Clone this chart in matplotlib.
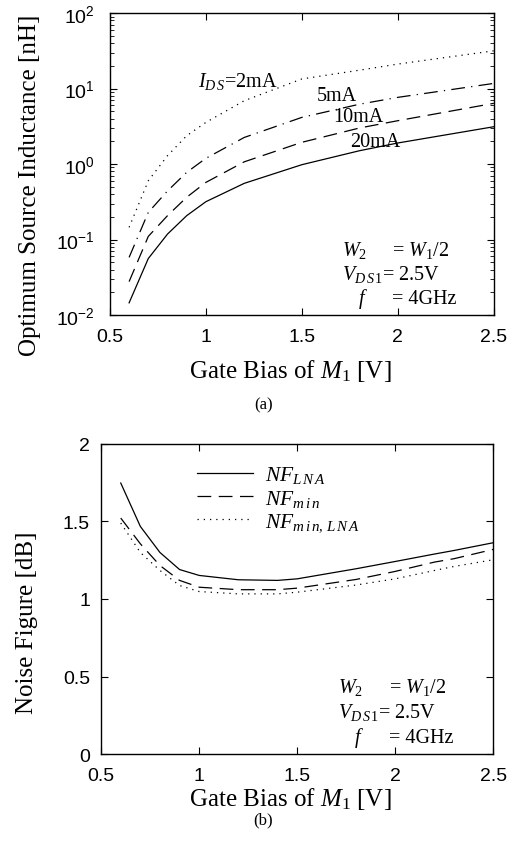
import numpy as np
import matplotlib
matplotlib.use("Agg")
import matplotlib.pyplot as plt
from matplotlib.ticker import FuncFormatter, NullFormatter, LogLocator

plt.rcParams['font.family'] = ['Liberation Serif', 'DejaVu Serif']
plt.rcParams['mathtext.fontset'] = 'custom'
plt.rcParams['mathtext.rm'] = 'Liberation Serif'
plt.rcParams['mathtext.it'] = 'Liberation Serif:italic'
plt.rcParams['mathtext.bf'] = 'Liberation Serif:bold'
plt.rcParams['mathtext.sf'] = 'Liberation Sans'

# (a) optimum source inductance vs gate bias, one curve per drain current
vgs_a = [0.6, 0.7, 0.8, 0.9, 1.0, 1.2, 1.5, 1.8, 2.0, 2.5]
ls_2ma = [0.145, 0.60, 1.29, 2.37, 3.56, 6.9, 13.4, 17.5, 21.1, 31.6]
ls_5ma = [0.058, 0.229, 0.44, 0.776, 1.19, 2.25, 4.15, 6.2, 7.64, 11.7]
ls_10ma = [0.0277, 0.11, 0.207, 0.363, 0.571, 1.07, 1.94, 3.0, 3.75, 6.37]
ls_20ma = [0.0145, 0.056, 0.118, 0.207, 0.317, 0.555, 0.98, 1.50, 1.9, 3.12]

# (b) noise figure vs gate bias
vgs_b = [0.6, 0.7, 0.8, 0.9, 1.0, 1.2, 1.4, 1.5, 1.8, 2.0, 2.2, 2.3, 2.5]
nf_lna = [1.748, 1.468, 1.30, 1.19, 1.152, 1.124, 1.12, 1.13, 1.195, 1.242, 1.29, 1.313, 1.363]
nf_min = [1.522, 1.356, 1.216, 1.12, 1.076, 1.06, 1.06, 1.07, 1.126, 1.178, 1.238, 1.26, 1.32]
nf_min_lna = [1.49, 1.30, 1.184, 1.087, 1.048, 1.033, 1.033, 1.044, 1.09, 1.13, 1.184, 1.21, 1.253]

xticks = [0.5, 1, 1.5, 2, 2.5]
yticks_b = [0, 0.5, 1, 1.5, 2]

SANS = 'Liberation Sans'
LW = 0.9
DASHED = (0, (11, 6))
DASHDOT = (0, (11, 5, 1, 5))
DOTTED = (0, (1, 4))


def style_axes(ax, ypad):
    ax.tick_params(which='both', direction='in', top=True, right=True)
    ax.tick_params(which='major', length=5, width=0.8)
    ax.tick_params(which='minor', length=3, width=0.6)
    ax.tick_params(axis='x', which='major', pad=9)
    ax.tick_params(axis='y', which='major', pad=ypad)
    for s in ax.spines.values():
        s.set_linewidth(1.0)
    for lab in ax.get_xticklabels() + ax.get_yticklabels():
        lab.set_family(SANS)
        lab.set_fontsize(14)


def param_text(ax):
    kw = dict(transform=ax.transAxes, fontsize=14.5, va='baseline', ha='left')
    ax.text(0.605, 0.200, r'$W_2$', **kw)
    ax.text(0.735, 0.200, r'= $W_1$/2', **kw)
    ax.text(0.605, 0.120, r'$V_{D\,S\,1}$= 2.5V', **kw)
    ax.text(0.645, 0.040, r'$f$', **kw)
    ax.text(0.735, 0.040, r'= 4GHz', **kw)


fig = plt.figure(figsize=(5.16, 8.62), dpi=100)

# ---- panel (a)
ax1 = fig.add_axes([0.213, 0.6334, 0.744, 0.3503])
ax1.semilogy(vgs_a, ls_2ma, color='k', lw=LW, linestyle=DOTTED)
ax1.semilogy(vgs_a, ls_5ma, color='k', lw=LW, linestyle=DASHDOT)
ax1.semilogy(vgs_a, ls_10ma, color='k', lw=LW, linestyle=DASHED)
ax1.semilogy(vgs_a, ls_20ma, color='k', lw=LW, linestyle='-')
ax1.set_xlim(0.5, 2.5)
ax1.set_ylim(1e-2, 1e2)
ax1.set_xticks(xticks)
ax1.xaxis.set_major_formatter(FuncFormatter(lambda v, p: '%g' % v))
ax1.yaxis.set_major_locator(LogLocator(base=10, numticks=10))
ax1.yaxis.set_minor_locator(LogLocator(base=10, subs=np.arange(2, 10), numticks=20))
ax1.yaxis.set_major_formatter(FuncFormatter(
    lambda v, p: r'$\mathsf{10^{%d}}$' % round(np.log10(v))))
ax1.yaxis.set_minor_formatter(NullFormatter())
style_axes(ax1, 11)
ax1.set_xlabel(r'Gate Bias of $M_1$ [V]', fontsize=18)
ax1.set_ylabel('Optimum Source Inductance [nH]', fontsize=18)
ax1.xaxis.set_label_coords(0.469, -0.139)
ax1.yaxis.set_label_coords(-0.18, 0.434)

ax1.text(0.96, 10.7, r'$I_{D\,S}$=2mA', fontsize=14.5)
ax1.text(1.576, 7.1, '5mA', fontsize=14.5)
ax1.text(1.663, 3.75, '10mA', fontsize=14.5)
ax1.text(1.75, 1.75, '20mA', fontsize=14.5)
param_text(ax1)

fig.text(0.51, 0.530, '(a)', ha='center', va='center', fontsize=12)

# ---- panel (b)
ax2 = fig.add_axes([0.196, 0.1241, 0.760, 0.3597])
ax2.plot(vgs_b, nf_lna, color='k', lw=LW, linestyle='-', label=r'$NF_{L\,N\,A}$')
ax2.plot(vgs_b, nf_min, color='k', lw=LW, linestyle=DASHED, label=r'$NF_{m\,i\,n}$')
ax2.plot(vgs_b, nf_min_lna, color='k', lw=LW, linestyle=DOTTED,
         label=r'$NF_{m\,i\,n,\,L\,N\,A}$')
ax2.set_xlim(0.5, 2.5)
ax2.set_ylim(0, 2)
ax2.set_xticks(xticks)
ax2.set_yticks(yticks_b)
ax2.xaxis.set_major_formatter(FuncFormatter(lambda v, p: '%g' % v))
ax2.yaxis.set_major_formatter(FuncFormatter(lambda v, p: '%g' % v))
style_axes(ax2, 8)
ax2.set_xlabel(r'Gate Bias of $M_1$ [V]', fontsize=18)
ax2.set_ylabel('Noise Figure [dB]', fontsize=18)
ax2.xaxis.set_label_coords(0.482, -0.099)
ax2.yaxis.set_label_coords(-0.161, 0.426)
ax2.legend(loc='upper left', bbox_to_anchor=(0.245, 0.935), frameon=False,
           fontsize=15.5, handlelength=2.6, handletextpad=0.55, labelspacing=0.12,
           borderpad=0, borderaxespad=0)
param_text(ax2)

fig.text(0.51, 0.0487, '(b)', ha='center', va='center', fontsize=12)

fig.savefig('out.png', dpi=100)
